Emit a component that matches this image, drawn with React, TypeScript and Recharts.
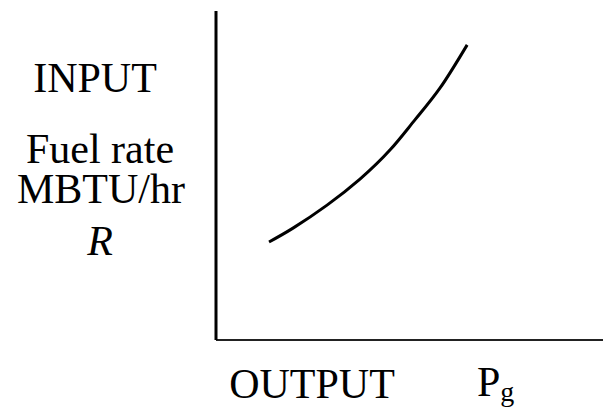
import { LineChart, Line, XAxis, YAxis } from "recharts";

// points (output vs input, arbitrary units 0-10)
const outputVals = [1.37, 1.99, 2.87, 3.72, 4.5, 5.14, 5.79, 6.49];
const inputVals = [2.98, 3.4, 4.1, 4.89, 5.78, 6.69, 7.66, 8.97];

const yLabelLines = ["INPUT", "Fuel rate", "MBTU/hr", "R"];
const xLabel = "OUTPUT";
const xSymbol = "P";
const xSub = "g";

const data = outputVals.map((x, i) => ({ x, y: inputVals[i] }));

const font = "'Liberation Serif', 'Times New Roman', serif";

const YLabels = () => (
  <g fontFamily={font} fill="#000" textAnchor="middle">
    <text x={95} y={92} fontSize={42}>{yLabelLines[0]}</text>
    <text x={100} y={163} fontSize={42}>{yLabelLines[1]}</text>
    <text x={101} y={203} fontSize={42}>{yLabelLines[2]}</text>
    <text x={100} y={255} fontSize={42} fontStyle="italic">{yLabelLines[3]}</text>
  </g>
);

const XLabels = () => (
  <g fontFamily={font} fill="#000">
    <text x={312} y={398} fontSize={42} textAnchor="middle">{xLabel}</text>
    <text x={477} y={396} fontSize={42}>
      {xSymbol}
      <tspan fontSize={28} dy={5}>{xSub}</tspan>
    </text>
  </g>
);

export default function App() {
  return (
    <div style={{ position: "absolute", left: 0, top: 0, background: "#fff" }}>
      <LineChart
        width={603}
        height={408}
        data={data}
        margin={{ top: 11, right: 0, left: 215, bottom: 67 }}
      >
        <XAxis
          type="number"
          dataKey="x"
          domain={[0, 10]}
          height={1}
          tick={false}
          tickLine={false}
          axisLine={{ stroke: "#222", strokeWidth: 2 }}
          label={{ content: () => <XLabels /> }}
        />
        <YAxis
          type="number"
          domain={[0, 10]}
          width={1}
          tick={false}
          tickLine={false}
          axisLine={{ stroke: "#000", strokeWidth: 3 }}
          label={{ content: () => <YLabels /> }}
        />
        <Line
          type="natural"
          dataKey="y"
          stroke="#000"
          strokeWidth={3}
          dot={false}
          isAnimationActive={false}
        />
      </LineChart>
    </div>
  );
}
